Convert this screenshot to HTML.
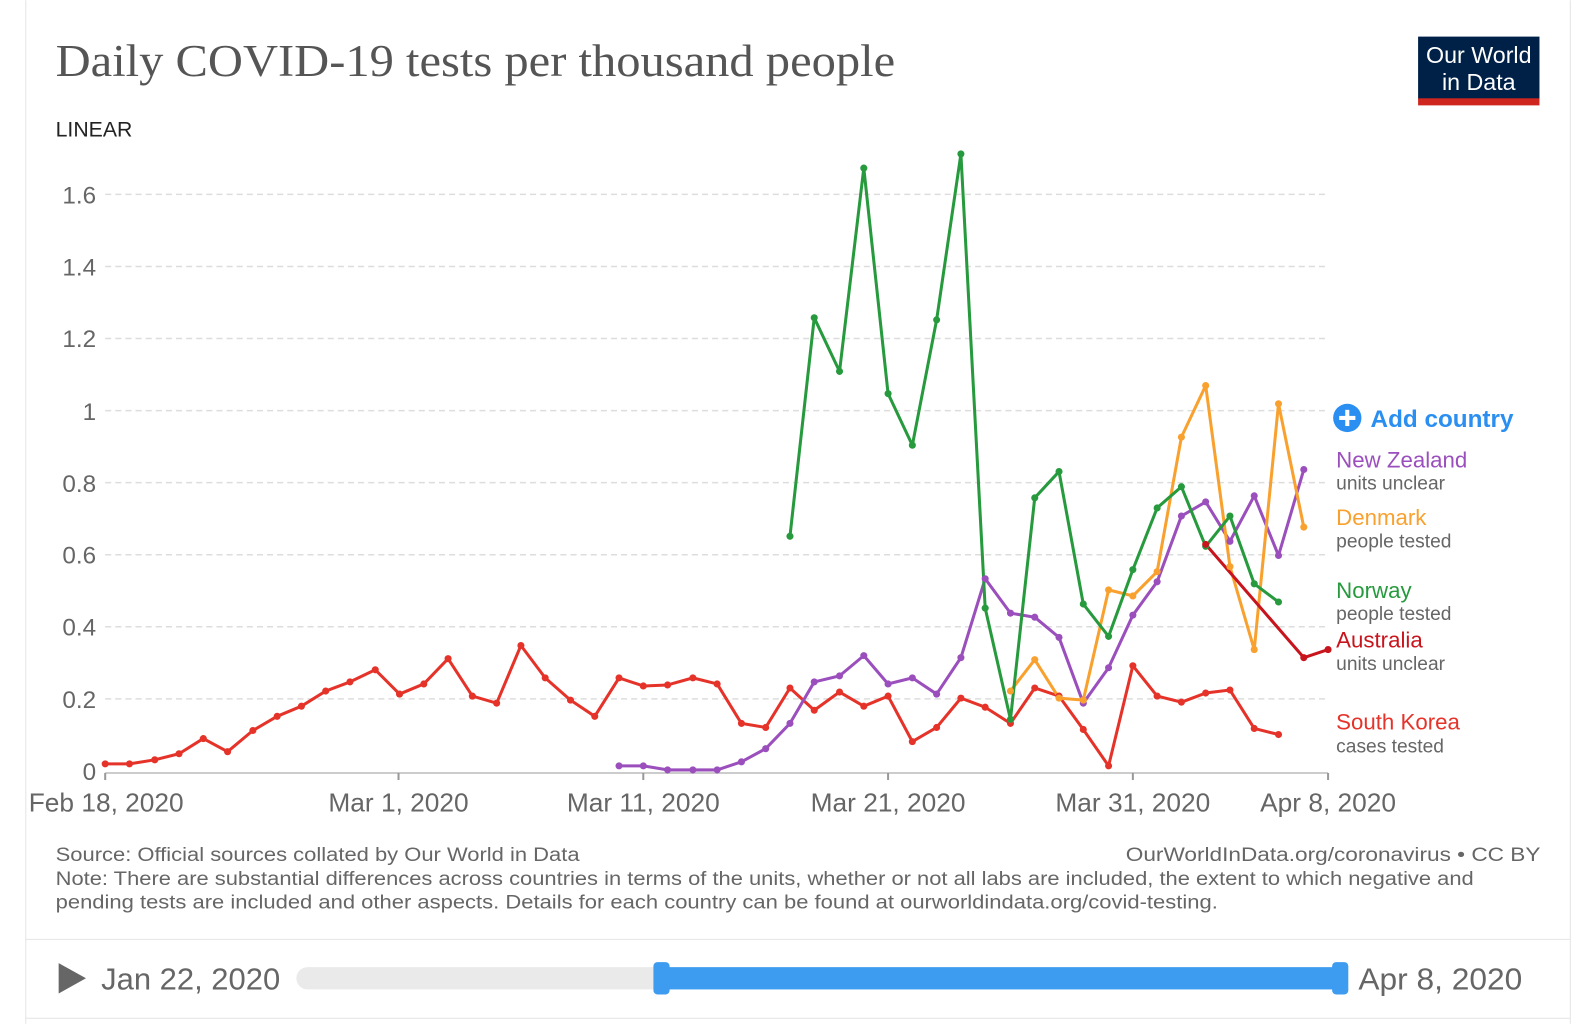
<!DOCTYPE html>
<html><head><meta charset="utf-8"><style>
html,body{margin:0;padding:0;background:#fff;}
svg{display:block;}
text{font-family:"Liberation Sans",sans-serif;}
</style></head><body>
<svg width="1586" height="1024" viewBox="0 0 1568 1012" xmlns="http://www.w3.org/2000/svg">
<rect x="0" y="0" width="1568" height="1012" fill="#fff"/>
<line x1="25.5" y1="0" x2="25.5" y2="1012" stroke="#e4e4e4"/>
<line x1="1552.5" y1="0" x2="1552.5" y2="1012" stroke="#e4e4e4"/>
<line x1="25" y1="928.5" x2="1552" y2="928.5" stroke="#e4e4e4"/>
<line x1="25" y1="1006.5" x2="1552" y2="1006.5" stroke="#e4e4e4"/>
<text x="55" y="75" font-size="45" fill="#555" textLength="830" lengthAdjust="spacingAndGlyphs" style="font-family:'Liberation Serif',serif">Daily COVID-19 tests per thousand people</text>
<rect x="1402" y="36" width="120" height="62" fill="#002147"/>
<rect x="1402" y="97" width="120" height="7" fill="#ce261e"/>
<text x="1462" y="62" font-size="23" fill="#fff" text-anchor="middle">Our World</text>
<text x="1462" y="89" font-size="23" fill="#fff" text-anchor="middle">in Data</text>
<text x="55" y="135" font-size="21" fill="#222">LINEAR</text>
<g stroke="#ddd" stroke-width="1.5" stroke-dasharray="6,4">
<line x1="104" y1="690.75" x2="1313" y2="690.75"/>
<line x1="104" y1="619.5" x2="1313" y2="619.5"/>
<line x1="104" y1="548.25" x2="1313" y2="548.25"/>
<line x1="104" y1="477" x2="1313" y2="477"/>
<line x1="104" y1="405.75" x2="1313" y2="405.75"/>
<line x1="104" y1="334.5" x2="1313" y2="334.5"/>
<line x1="104" y1="263.25" x2="1313" y2="263.25"/>
<line x1="104" y1="192" x2="1313" y2="192"/>
</g>
<g font-size="24" fill="#666" text-anchor="end">
<text x="95" y="771">0</text>
<text x="95" y="700">0.2</text>
<text x="95" y="628">0.4</text>
<text x="95" y="557">0.6</text>
<text x="95" y="486">0.8</text>
<text x="95" y="415">1</text>
<text x="95" y="343">1.2</text>
<text x="95" y="272">1.4</text>
<text x="95" y="201">1.6</text>
</g>
<line x1="104" y1="764" x2="1313" y2="764" stroke="#ccc" stroke-width="2"/>
<g stroke="#999" stroke-width="2">
<line x1="104" y1="764" x2="104" y2="771"/><line x1="394" y1="764" x2="394" y2="771"/>
<line x1="636" y1="764" x2="636" y2="771"/><line x1="878" y1="764" x2="878" y2="771"/>
<line x1="1120" y1="764" x2="1120" y2="771"/><line x1="1313" y1="764" x2="1313" y2="771"/>
</g>
<g font-size="26" fill="#666" text-anchor="middle">
<text x="105" y="802">Feb 18, 2020</text>
<text x="394" y="802">Mar 1, 2020</text>
<text x="636" y="802">Mar 11, 2020</text>
<text x="878" y="802">Mar 21, 2020</text>
<text x="1120" y="802">Mar 31, 2020</text>
<text x="1313" y="802">Apr 8, 2020</text>
</g>
<g fill="none" stroke-width="3" stroke-linejoin="round">
<polyline stroke="#e5332a" points="104,755 128,755 153,751 177,745 201,730 225,743 250,722 274,708 298,698 322,683 346,674 371,662 395,686 419,676 443,651 467,688 491,695 515,638 539,670 564,692 588,708 612,670 636,678 660,677 685,670 709,676 733,715 757,719 781,680 805,702 830,684 854,698 878,688 902,733 926,719 950,690 974,699 999,715 1023,680 1047,688 1071,721 1096,757 1120,658 1144,688 1168,694 1192,685 1216,682 1240,720 1264,726"/>
<polyline stroke="#9b4fbd" points="612,757 636,757 660,761 685,761 709,761 733,753 757,740 781,715 805,674 830,668 854,648 878,676 902,670 926,686 950,650 974,572 999,606 1023,610 1047,630 1071,695 1096,660 1120,608 1144,575 1168,510 1192,496 1216,535 1240,490 1264,549 1289,464"/>
<polyline stroke="#f9a12e" points="999,683 1023,652 1047,690 1071,692 1096,583 1120,589 1144,565 1168,432 1192,381 1216,560 1240,642 1264,399 1289,521"/>
<polyline stroke="#279a3e" points="781,530 805,314 830,367 854,166 878,389 902,440 926,316 950,152 974,601 999,711 1023,492 1047,466 1071,597 1096,629 1120,563 1144,502 1168,481 1192,540 1216,510 1240,577 1264,595"/>
<polyline stroke="#c8141c" points="1192,538 1289,650 1313,642"/>
</g>
<g fill="#e5332a">
<circle cx="104" cy="755" r="3.5"/><circle cx="128" cy="755" r="3.5"/><circle cx="153" cy="751" r="3.5"/><circle cx="177" cy="745" r="3.5"/><circle cx="201" cy="730" r="3.5"/><circle cx="225" cy="743" r="3.5"/><circle cx="250" cy="722" r="3.5"/><circle cx="274" cy="708" r="3.5"/><circle cx="298" cy="698" r="3.5"/><circle cx="322" cy="683" r="3.5"/><circle cx="346" cy="674" r="3.5"/><circle cx="371" cy="662" r="3.5"/><circle cx="395" cy="686" r="3.5"/><circle cx="419" cy="676" r="3.5"/><circle cx="443" cy="651" r="3.5"/><circle cx="467" cy="688" r="3.5"/><circle cx="491" cy="695" r="3.5"/><circle cx="515" cy="638" r="3.5"/><circle cx="539" cy="670" r="3.5"/><circle cx="564" cy="692" r="3.5"/><circle cx="588" cy="708" r="3.5"/><circle cx="612" cy="670" r="3.5"/><circle cx="636" cy="678" r="3.5"/><circle cx="660" cy="677" r="3.5"/><circle cx="685" cy="670" r="3.5"/><circle cx="709" cy="676" r="3.5"/><circle cx="733" cy="715" r="3.5"/><circle cx="757" cy="719" r="3.5"/><circle cx="781" cy="680" r="3.5"/><circle cx="805" cy="702" r="3.5"/><circle cx="830" cy="684" r="3.5"/><circle cx="854" cy="698" r="3.5"/><circle cx="878" cy="688" r="3.5"/><circle cx="902" cy="733" r="3.5"/><circle cx="926" cy="719" r="3.5"/><circle cx="950" cy="690" r="3.5"/><circle cx="974" cy="699" r="3.5"/><circle cx="999" cy="715" r="3.5"/><circle cx="1023" cy="680" r="3.5"/><circle cx="1047" cy="688" r="3.5"/><circle cx="1071" cy="721" r="3.5"/><circle cx="1096" cy="757" r="3.5"/><circle cx="1120" cy="658" r="3.5"/><circle cx="1144" cy="688" r="3.5"/><circle cx="1168" cy="694" r="3.5"/><circle cx="1192" cy="685" r="3.5"/><circle cx="1216" cy="682" r="3.5"/><circle cx="1240" cy="720" r="3.5"/><circle cx="1264" cy="726" r="3.5"/>
</g>
<g fill="#9b4fbd">
<circle cx="612" cy="757" r="3.5"/><circle cx="636" cy="757" r="3.5"/><circle cx="660" cy="761" r="3.5"/><circle cx="685" cy="761" r="3.5"/><circle cx="709" cy="761" r="3.5"/><circle cx="733" cy="753" r="3.5"/><circle cx="757" cy="740" r="3.5"/><circle cx="781" cy="715" r="3.5"/><circle cx="805" cy="674" r="3.5"/><circle cx="830" cy="668" r="3.5"/><circle cx="854" cy="648" r="3.5"/><circle cx="878" cy="676" r="3.5"/><circle cx="902" cy="670" r="3.5"/><circle cx="926" cy="686" r="3.5"/><circle cx="950" cy="650" r="3.5"/><circle cx="974" cy="572" r="3.5"/><circle cx="999" cy="606" r="3.5"/><circle cx="1023" cy="610" r="3.5"/><circle cx="1047" cy="630" r="3.5"/><circle cx="1071" cy="695" r="3.5"/><circle cx="1096" cy="660" r="3.5"/><circle cx="1120" cy="608" r="3.5"/><circle cx="1144" cy="575" r="3.5"/><circle cx="1168" cy="510" r="3.5"/><circle cx="1192" cy="496" r="3.5"/><circle cx="1216" cy="535" r="3.5"/><circle cx="1240" cy="490" r="3.5"/><circle cx="1264" cy="549" r="3.5"/><circle cx="1289" cy="464" r="3.5"/>
</g>
<g fill="#f9a12e">
<circle cx="999" cy="683" r="3.5"/><circle cx="1023" cy="652" r="3.5"/><circle cx="1047" cy="690" r="3.5"/><circle cx="1071" cy="692" r="3.5"/><circle cx="1096" cy="583" r="3.5"/><circle cx="1120" cy="589" r="3.5"/><circle cx="1144" cy="565" r="3.5"/><circle cx="1168" cy="432" r="3.5"/><circle cx="1192" cy="381" r="3.5"/><circle cx="1216" cy="560" r="3.5"/><circle cx="1240" cy="642" r="3.5"/><circle cx="1264" cy="399" r="3.5"/><circle cx="1289" cy="521" r="3.5"/>
</g>
<g fill="#279a3e">
<circle cx="781" cy="530" r="3.5"/><circle cx="805" cy="314" r="3.5"/><circle cx="830" cy="367" r="3.5"/><circle cx="854" cy="166" r="3.5"/><circle cx="878" cy="389" r="3.5"/><circle cx="902" cy="440" r="3.5"/><circle cx="926" cy="316" r="3.5"/><circle cx="950" cy="152" r="3.5"/><circle cx="974" cy="601" r="3.5"/><circle cx="999" cy="711" r="3.5"/><circle cx="1023" cy="492" r="3.5"/><circle cx="1047" cy="466" r="3.5"/><circle cx="1071" cy="597" r="3.5"/><circle cx="1096" cy="629" r="3.5"/><circle cx="1120" cy="563" r="3.5"/><circle cx="1144" cy="502" r="3.5"/><circle cx="1168" cy="481" r="3.5"/><circle cx="1192" cy="540" r="3.5"/><circle cx="1216" cy="510" r="3.5"/><circle cx="1240" cy="577" r="3.5"/><circle cx="1264" cy="595" r="3.5"/>
</g>
<g fill="#c8141c"><circle cx="1192" cy="538" r="3.5"/><circle cx="1289" cy="650" r="3.5"/><circle cx="1313" cy="642" r="3.5"/></g>
<circle cx="1332" cy="413" r="14" fill="#2a8ff0"/>
<rect x="1324" y="411" width="16" height="4" fill="#fff"/><rect x="1330" y="405" width="4" height="16" fill="#fff"/>
<text x="1355" y="422" font-size="24" font-weight="bold" fill="#2a8ff0">Add country</text>
<text x="1321" y="462" font-size="22" fill="#9b4fbd">New Zealand</text>
<text x="1321" y="484" font-size="19" fill="#666">units unclear</text>
<text x="1321" y="519" font-size="22" fill="#f9a12e">Denmark</text>
<text x="1321" y="541" font-size="19" fill="#666">people tested</text>
<text x="1321" y="591" font-size="22" fill="#279a3e">Norway</text>
<text x="1321" y="613" font-size="19" fill="#666">people tested</text>
<text x="1321" y="640" font-size="22" fill="#c8141c">Australia</text>
<text x="1321" y="662" font-size="19" fill="#666">units unclear</text>
<text x="1321" y="721" font-size="22" fill="#e5332a">South Korea</text>
<text x="1321" y="744" font-size="19" fill="#666">cases tested</text>
<g font-size="19" fill="#666">
<text x="55" y="851" textLength="518" lengthAdjust="spacingAndGlyphs">Source: Official sources collated by Our World in Data</text>
<text x="1113" y="851" textLength="410" lengthAdjust="spacingAndGlyphs">OurWorldInData.org/coronavirus • CC BY</text>
<text x="55" y="875" textLength="1402" lengthAdjust="spacingAndGlyphs">Note: There are substantial differences across countries in terms of the units, whether or not all labs are included, the extent to which negative and</text>
<text x="55" y="898" textLength="1149" lengthAdjust="spacingAndGlyphs">pending tests are included and other aspects. Details for each country can be found at ourworldindata.org/covid-testing.</text>
</g>
<polygon points="58,952 58,982 85,967" fill="#666"/>
<text x="100" y="978" font-size="30" fill="#666" textLength="177" lengthAdjust="spacingAndGlyphs">Jan 22, 2020</text>
<rect x="293" y="956" width="1035" height="22" rx="11" fill="#eaeaea"/>
<rect x="654" y="956" width="672" height="22" fill="#3d9bf0"/>
<rect x="646" y="951" width="16" height="32" rx="4" fill="#3d9bf0"/>
<rect x="1317" y="951" width="16" height="32" rx="4" fill="#3d9bf0"/>
<text x="1343" y="978" font-size="30" fill="#666" textLength="162" lengthAdjust="spacingAndGlyphs">Apr 8, 2020</text>
</svg>
</body></html>
